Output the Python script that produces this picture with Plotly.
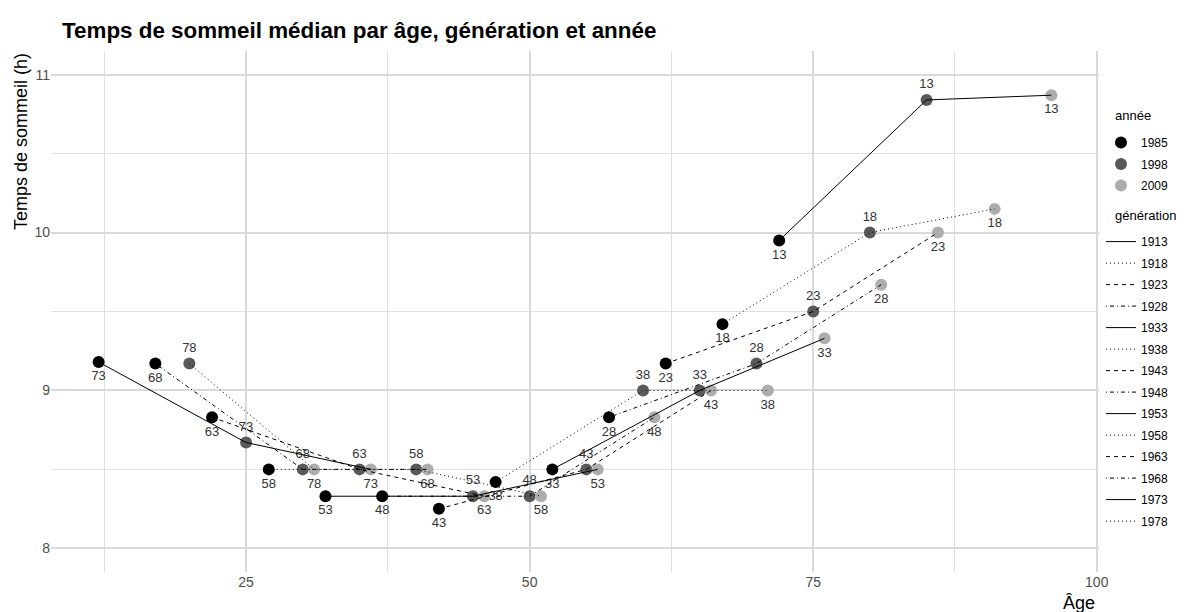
import plotly.graph_objects as go

# ---- data ----
generations = [1913, 1918, 1923, 1928, 1933, 1938, 1943, 1948, 1953, 1958, 1963, 1968, 1973, 1978]
years = [1985, 1998, 2009]
# median sleep time (h) by generation, for each survey year (None = not surveyed)
sleep_1985 = [9.95, 9.42, 9.17, 8.83, 8.50, 8.42, 8.25, 8.33, 8.33, 8.50, 8.83, 9.17, 9.18, None]
sleep_1998 = [10.84, 10.00, 9.50, 9.17, 9.00, 9.00, 8.50, 8.33, 8.33, 8.50, 8.50, 8.50, 8.67, 9.17]
sleep_2009 = [10.87, 10.15, 10.00, 9.67, 9.33, 9.00, 9.00, 8.83, 8.50, 8.33, 8.33, 8.50, 8.50, 8.50]
sleep_by_year = {1985: sleep_1985, 1998: sleep_1998, 2009: sleep_2009}

year_colors = {1985: "#000000", 1998: "#595959", 2009: "#ADADAD"}
label_pos = {1985: "bottom center", 1998: "top center", 2009: "bottom center"}
dash_cycle = ["solid", "1px,3px", "4px,4px", "1px,3px,4px,3px"]

FONT = "Liberation Sans, Arial, sans-serif"

fig = go.Figure()

# points with labels (one trace per year)
for yr in years:
    xs, ys, labels = [], [], []
    for g, v in zip(generations, sleep_by_year[yr]):
        if v is None:
            continue
        xs.append(yr - g)
        ys.append(v)
        labels.append(str(g)[-2:])
    fig.add_trace(go.Scatter(
        x=xs, y=ys, mode="markers+text", text=labels,
        textposition=label_pos[yr],
        textfont=dict(family=FONT, size=13, color="#333333"),
        marker=dict(size=12, color=year_colors[yr]),
        name=str(yr), legend="legend", legendgroup="y" + str(yr), cliponaxis=False,
    ))

# lines per generation
for i, g in enumerate(generations):
    xs, ys = [], []
    for yr in years:
        v = sleep_by_year[yr][i]
        if v is None:
            continue
        xs.append(yr - g)
        ys.append(v)
    fig.add_trace(go.Scatter(
        x=xs, y=ys, mode="lines",
        line=dict(color="#000000", width=1, dash=dash_cycle[i % 4]),
        name=str(g), legend="legend2", legendgroup="g" + str(g),
    ))

# page body has an 8px margin: figure is sized to fit the 1184x612 window
W, H = 1176, 604
fig.update_layout(
    width=W, height=H,
    margin=dict(l=43, r=85, t=43, b=40, autoexpand=False),
    paper_bgcolor="white", plot_bgcolor="white",
    font=dict(family=FONT, color="#4D4D4D"),
    title=dict(text="<b>Temps de sommeil médian par âge, génération et année</b>",
               x=54 / W, xanchor="left", xref="container",
               y=1 - 22 / H, yanchor="middle", yref="container",
               font=dict(family=FONT, size=22.4, color="#000000")),
    xaxis=dict(range=[7.8, 100.2], tick0=0, dtick=25, showline=False, zeroline=False,
               gridcolor="#D9D9D9", gridwidth=1.6, ticks="",
               tickfont=dict(family=FONT, size=14, color="#4D4D4D"),
               minor=dict(dtick=12.5, tick0=0, showgrid=True, gridcolor="#E0E0E0", gridwidth=0.9)),
    yaxis=dict(range=[7.85, 11.15], tick0=0, dtick=1, showline=False, zeroline=False,
               gridcolor="#D9D9D9", gridwidth=1.6, ticks="",
               tickfont=dict(family=FONT, size=14, color="#4D4D4D"),
               minor=dict(dtick=0.5, tick0=0, showgrid=True, gridcolor="#E0E0E0", gridwidth=0.9)),
    legend=dict(x=1.0019, xanchor="left", y=0.852, yanchor="top", tracegroupgap=2.5,
                font=dict(family=FONT, size=12, color="#000000"), bgcolor="rgba(0,0,0,0)"),
    legend2=dict(x=1.0019, xanchor="left", y=0.662, yanchor="top", tracegroupgap=2.5,
                 font=dict(family=FONT, size=12, color="#000000"), bgcolor="rgba(0,0,0,0)"),
    annotations=[
        dict(text="Temps de sommeil (h)", textangle=-90, xref="paper", yref="paper",
             x=-0.0291, y=1.0, xanchor="center", yanchor="top", showarrow=False,
             font=dict(family=FONT, size=18, color="#000000")),
        dict(text="Âge", xref="paper", yref="paper", x=0.998, y=-0.0595,
             xanchor="right", yanchor="middle", showarrow=False,
             font=dict(family=FONT, size=18, color="#000000")),
        dict(text="année", xref="paper", yref="paper", x=1.0134, y=0.877,
             xanchor="left", yanchor="middle", showarrow=False,
             font=dict(family=FONT, size=13, color="#000000")),
        dict(text="génération", xref="paper", yref="paper", x=1.0134, y=0.685,
             xanchor="left", yanchor="middle", showarrow=False,
             font=dict(family=FONT, size=13, color="#000000")),
    ],
)

fig.write_html("out.html")
